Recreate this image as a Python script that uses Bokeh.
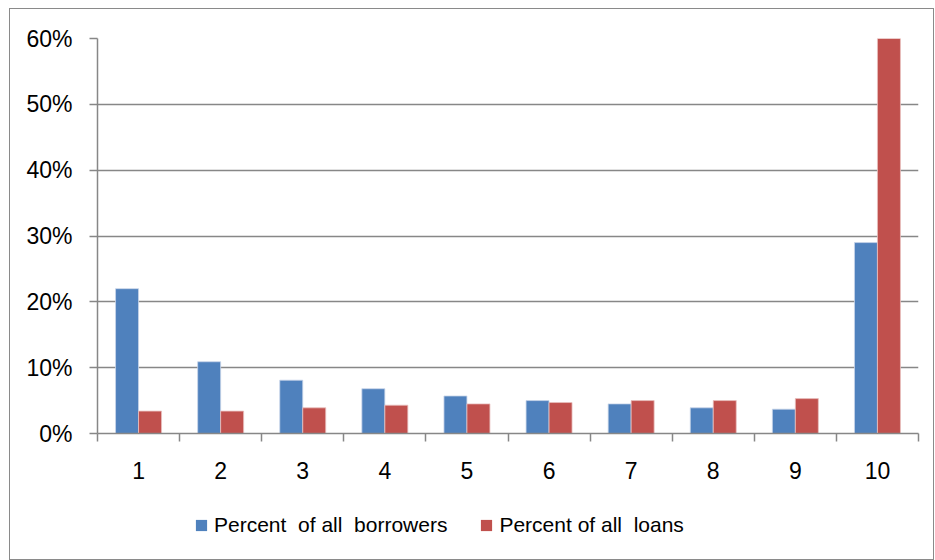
from bokeh.plotting import figure
from bokeh.layouts import column
from bokeh.models import (ColumnDataSource, FixedTicker, Legend, LegendItem, Range1d)
from bokeh.embed import file_html
from bokeh.resources import INLINE

categories = [1, 2, 3, 4, 5, 6, 7, 8, 9, 10]
borrowers = [22.0, 10.9, 8.1, 6.8, 5.7, 5.0, 4.5, 3.9, 3.7, 29.0]
loans = [3.4, 3.4, 3.9, 4.3, 4.5, 4.7, 5.0, 5.0, 5.3, 60.0]
y_ticks = [0, 10, 20, 30, 40, 50, 60]
y_labels = ["0%", "10%", "20%", "30%", "40%", "50%", "60%"]
series_names = ["Percent  of all  borrowers", "Percent of all  loans"]

BLUE = "#4F81BD"
RED = "#C0504D"
GRID = "#878787"
FONT = "Liberation Sans"

p = figure(width=923, height=476, output_backend="svg", toolbar_location=None,
           min_border_left=87, min_border_top=29, min_border_right=15,
           min_border_bottom=52,
           x_range=Range1d(0.5, 10.5), y_range=Range1d(0, 60))

src = ColumnDataSource(dict(
    xb=[c - 0.14 for c in categories],
    xr=[c + 0.14 for c in categories],
    b=borrowers, l=loans))

p.vbar(x="xb", top="b", width=0.28, source=src, fill_color=BLUE,
       line_color="#c9d6ea", line_width=0.8)
p.vbar(x="xr", top="l", width=0.28, source=src, fill_color=RED,
       line_color="#e8c0bf", line_width=0.8)

p.outline_line_color = None
p.background_fill_color = "white"
p.border_fill_color = "white"

# y axis
p.yaxis.ticker = FixedTicker(ticks=y_ticks)
p.yaxis.major_label_overrides = {t: l for t, l in zip(y_ticks, y_labels)}
p.yaxis.major_label_text_font = FONT
p.yaxis.major_label_text_font_size = "23px"
p.yaxis.major_label_text_color = "black"
p.yaxis.major_tick_out = 8
p.yaxis.major_tick_in = 0
p.yaxis.minor_tick_line_color = None
p.yaxis.axis_line_color = GRID
p.yaxis.axis_line_width = 1.5
p.yaxis.major_tick_line_color = GRID
p.yaxis.major_tick_line_width = 1.5
p.yaxis.major_label_standoff = 17

# x axis: labels at centres, tick marks at category boundaries
p.xaxis.ticker = FixedTicker(ticks=categories,
                             minor_ticks=[c - 0.5 for c in categories] + [10.5])
p.xaxis.major_tick_out = 0
p.xaxis.major_tick_in = 0
p.xaxis.minor_tick_out = 8
p.xaxis.minor_tick_in = 0
p.xaxis.minor_tick_line_color = GRID
p.xaxis.minor_tick_line_width = 1.5
p.xaxis.axis_line_color = GRID
p.xaxis.axis_line_width = 1.5
p.xaxis.major_label_text_font = FONT
p.xaxis.major_label_text_font_size = "23px"
p.xaxis.major_label_text_color = "black"
p.xaxis.major_label_standoff = 20

p.xgrid.grid_line_color = None
p.ygrid.ticker = FixedTicker(ticks=y_ticks[1:])
p.ygrid.grid_line_color = GRID
p.ygrid.grid_line_width = 1.5

# legend strip (zero-height swatch renderers, only used for the legend keys)
lg = figure(width=923, height=74, output_backend="svg", toolbar_location=None,
            min_border=0, x_axis_type=None, y_axis_type=None,
            x_range=Range1d(0, 1), y_range=Range1d(0, 1))
lg.outline_line_color = None
lg.xgrid.grid_line_color = None
lg.ygrid.grid_line_color = None
swatch = ColumnDataSource(dict(x=[0.5], t=[0.0]))
lb = lg.vbar(x="x", top="t", bottom=0, width=0.01, source=swatch,
             fill_color=BLUE, line_color=None)
lr = lg.vbar(x="x", top="t", bottom=0, width=0.01, source=swatch,
             fill_color=RED, line_color=None)
legend = Legend(items=[LegendItem(label=series_names[0], renderers=[lb]),
                       LegendItem(label=series_names[1], renderers=[lr])],
                orientation="horizontal", location=(97, 22),
                padding=0, margin=0, spacing=32, label_standoff=6,
                glyph_width=14, glyph_height=14,
                label_text_font=FONT, label_text_font_size="21px",
                label_text_color="black",
                border_line_color=None, background_fill_alpha=0)
lg.add_layout(legend, "center")

layout = column(p, lg, margin=(8, 0, 0, 9),
                styles={"border": "1.5px solid #8a8a8a"})

open("out.html", "w").write(file_html(layout, INLINE))
